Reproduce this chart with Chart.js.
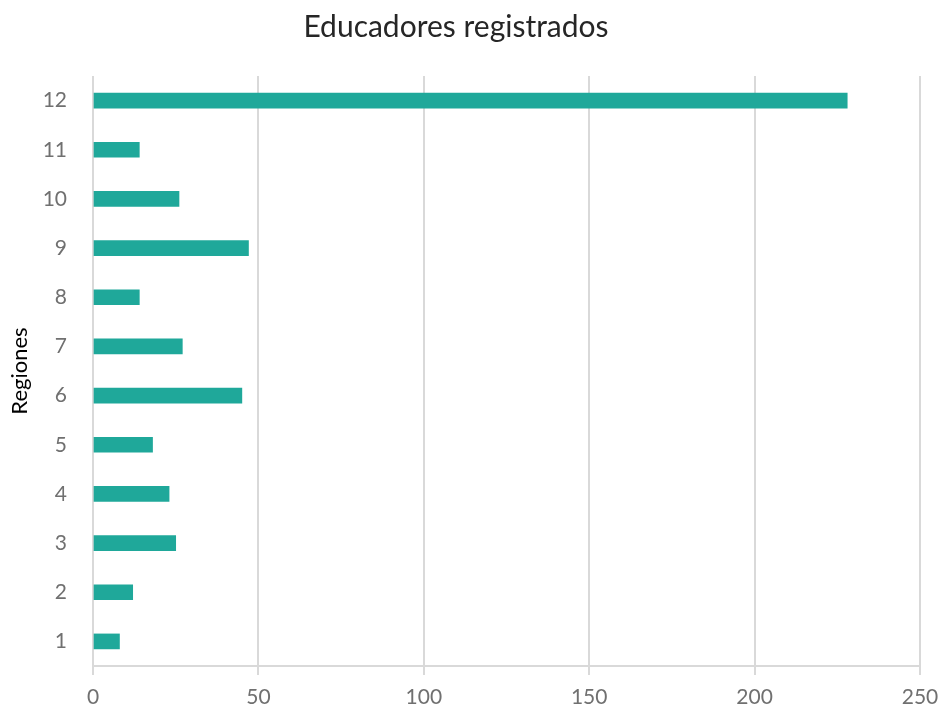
<!DOCTYPE html>
<html>
<head>
<meta charset="utf-8">
<script src="https://cdn.jsdelivr.net/npm/chart.js@4/dist/chart.umd.min.js"></script>
<style>
html,body{margin:0;padding:0;background:#fff;}
#wrap{width:939px;height:710px;position:relative;}
</style>
</head>
<body>
<div id="wrap"><canvas id="c" width="939" height="710"></canvas></div>
<script>
const regiones = ['1','2','3','4','5','6','7','8','9','10','11','12'];
const educadores = [8, 12, 25, 23, 18, 45, 27, 14, 47, 26, 14, 228];
const xTicks = [0, 50, 100, 150, 200, 250];
const chartTitle = 'Educadores registrados';
const yTitle = 'Regiones';

const FONT = 'Lato, "Open Sans", sans-serif';

const titleShift = {
  id: 'titleShift',
  afterLayout(chart) {
    const t = chart.titleBlock;
    if (t) { t.right = t.left + 912; }
  }
};

new Chart(document.getElementById('c'), {
  type: 'bar',
  data: {
    labels: regiones,
    datasets: [{
      data: educadores,
      backgroundColor: '#1fa89a',
      borderWidth: 0,
      barThickness: 15
    }]
  },
  plugins: [titleShift],
  options: {
    indexAxis: 'y',
    responsive: false,
    animation: false,
    layout: { padding: { left: 0, right: 0, top: 0, bottom: 0 } },
    plugins: {
      legend: { display: false },
      tooltip: { enabled: false },
      title: {
        display: true,
        text: chartTitle,
        color: '#262626',
        font: { family: FONT, size: 30, weight: 'normal' },
        padding: { top: 9, bottom: 31 }
      }
    },
    scales: {
      x: {
        min: 0, max: 250,
        afterBuildTicks: (s) => { s.ticks = xTicks.map(v => ({ value: v })); },
        afterFit: (s) => { s.height = 44; s.paddingRight = 19; },
        grid: { color: '#d9d9d9', lineWidth: 2, tickLength: 9, drawTicks: true },
        border: { color: '#d9d9d9', width: 2 },
        ticks: { color: '#707070', font: { family: FONT, size: 21 }, padding: 10 }
      },
      y: {
        reverse: true,
        afterFit: (s) => { s.width = 93; },
        grid: { display: false, drawTicks: false },
        border: { display: false },
        ticks: { color: '#707070', font: { family: FONT, size: 21 }, padding: 26 },
        title: {
          display: true,
          text: yTitle,
          color: '#000000',
          font: { family: FONT, size: 22 },
          padding: { top: 7, bottom: 0 }
        }
      }
    }
  }
});
</script>
</body>
</html>
